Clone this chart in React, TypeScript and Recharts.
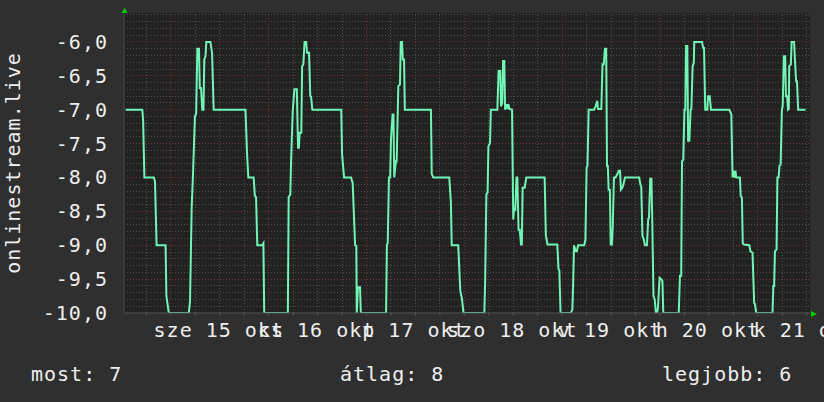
import React from "react";
import {
  LineChart,
  Line,
  XAxis,
  YAxis,
  CartesianGrid,
  ReferenceLine,
  Customized,
} from "recharts";

// hours since midnight, okt 15
const hours = [
  -11.1, -7.0, -6.8, -6.5, -4.2, -3.9, -3.5, -1.3, -1.1, -0.5, 4.4, 4.7, 5.1, 5.4, 5.9, 6.2, 6.5, 6.9, 7.1, 7.4,
  7.7, 8.0, 8.2, 8.5, 8.7, 9.7, 10.1, 10.5, 18.3, 18.7, 19.0, 20.3, 20.6, 20.9, 21.2, 22.4, 22.7, 22.9, 28.7, 28.9,
  29.3, 29.5, 29.9, 30.3, 30.9, 31.2, 31.4, 31.6, 32.0, 32.2, 32.5, 32.8, 33.2, 33.4, 33.9, 34.2, 34.4, 34.7, 41.8, 42.0,
  42.5, 44.2, 44.6, 45.2, 45.5, 45.6, 45.9, 46.4, 46.6, 52.8, 53.0, 53.2, 53.5, 53.8, 54.0, 54.4, 54.6, 54.8, 55.2, 55.4,
  55.8, 56.2, 56.4, 56.7, 56.9, 57.2, 57.4, 63.8, 64.0, 64.4, 68.3, 68.7, 68.9, 70.5, 71.0, 71.4, 71.8, 76.9, 77.1, 77.4,
  77.7, 77.9, 78.3, 78.5, 80.1, 80.4, 80.8, 81.0, 81.3, 81.5, 81.8, 82.0, 82.3, 82.6, 82.8, 83.1, 83.7, 84.0, 84.2, 84.5,
  84.8, 85.0, 85.3, 85.6, 85.9, 86.1, 86.3, 86.8, 87.2, 91.7, 92.0, 92.4, 94.8, 95.1, 95.3, 95.6, 98.1, 98.5, 98.7, 98.9,
  99.3, 99.6, 99.9, 101.4, 101.7, 102.0, 102.2, 102.5, 103.8, 104.2, 104.6, 104.8, 105.6, 105.9, 106.2, 106.5, 106.8, 107.0, 107.2, 107.4,
  107.7, 107.9, 108.2, 108.4, 108.7, 109.1, 109.7, 109.9, 110.2, 110.4, 110.7, 111.0, 111.4, 114.9, 115.2, 115.4, 115.7, 116.0, 116.3, 116.8,
  117.1, 117.3, 117.6, 117.9, 118.1, 118.4, 118.7, 119.0, 119.3, 119.5, 119.9, 120.3, 120.6, 120.8, 124.6, 124.9, 125.2, 125.4, 125.7, 126.0,
  126.2, 126.4, 126.7, 126.9, 127.2, 127.5, 127.7, 128.0, 128.3, 128.4, 130.3, 130.6, 130.8, 131.1, 131.6, 131.8, 132.2, 132.5, 137.0, 137.3,
  137.5, 137.8, 138.0, 138.3, 138.5, 138.7, 139.6, 139.8, 140.1, 140.3, 140.6, 141.9, 142.2, 142.7, 143.1, 143.3, 143.6, 147.6, 147.8, 148.0,
  148.2, 148.6, 148.8, 149.1, 149.3, 149.6, 149.9, 150.1, 150.4, 150.7, 150.9, 151.2, 151.4, 151.6, 151.7, 152.1, 152.3, 152.9, 153.1, 153.4,
  153.6, 153.9, 155.7,
];

const values = [
  -7.0, -7.0, -7.17, -8.0, -8.0, -8.06, -9.0, -9.0, -9.75, -10, -10, -9.83, -8.45, -8.0, -7.1, -7.06, -6.1, -6.1, -6.68, -6.68,
  -7.0, -7.0, -6.26, -6.21, -6.0, -6.0, -6.16, -7.0, -7.0, -7.66, -8.0, -8.0, -8.27, -8.29, -9.0, -9.0, -8.97, -10, -10, -8.29,
  -8.25, -7.74, -7.02, -6.7, -6.7, -7.56, -7.56, -7.34, -7.34, -6.36, -6.33, -6.0, -6.0, -6.16, -6.16, -6.8, -6.81, -7.0, -7.0, -7.66,
  -8.0, -8.0, -8.08, -9.0, -9.01, -10, -9.62, -9.62, -10, -10, -8.99, -8.97, -8.0, -8.0, -7.44, -7.07, -7.07, -8.0, -7.76, -7.76,
  -6.65, -6.63, -6.0, -6.0, -6.26, -6.26, -7.0, -7.0, -7.95, -8.0, -8.0, -8.37, -9.0, -9.0, -9.67, -9.79, -10, -10, -9.55, -8.25,
  -8.22, -7.54, -7.49, -7.0, -7.0, -6.43, -6.43, -6.95, -6.9, -6.28, -6.28, -7.0, -6.92, -6.99, -6.92, -6.99, -7.0, -8.62, -8.45, -8.47,
  -8.0, -8.0, -8.77, -8.77, -8.99, -8.99, -8.15, -8.15, -8.0, -8.0, -8.86, -8.99, -8.99, -9.35, -9.37, -10, -10, -9.95, -9.55, -9.0,
  -9.09, -9.09, -9.0, -9.0, -8.92, -7.86, -7.83, -7.0, -7.0, -6.95, -6.87, -6.99, -6.99, -6.33, -6.33, -6.1, -6.1, -7.83, -7.83, -8.18,
  -8.18, -8.99, -8.99, -8.74, -8.0, -8.0, -7.93, -7.9, -7.9, -8.18, -8.16, -8.11, -8.0, -8.0, -8.11, -8.13, -8.86, -8.91, -9.0, -9.0,
  -8.62, -8.59, -8.02, -8.02, -8.62, -9.75, -9.8, -10, -10, -9.92, -9.48, -9.5, -9.53, -10, -10, -9.45, -9.45, -7.76, -7.74, -7.0,
  -7.0, -6.06, -6.06, -7.46, -7.46, -7.0, -6.99, -6.36, -6.31, -6.0, -6.0, -6.09, -6.09, -7.0, -7.0, -6.8, -6.8, -7.0, -7.0, -7.04,
  -7.07, -8.0, -7.9, -8.0, -7.9, -8.0, -8.0, -8.27, -8.3, -8.97, -8.99, -9.0, -9.09, -9.11, -9.85, -9.87, -10, -10, -9.6, -9.6,
  -9.09, -9.06, -8.0, -8.0, -7.83, -7.81, -7.0, -6.95, -6.21, -6.21, -6.8, -6.8, -7.0, -6.99, -6.36, -6.33, -6.0, -6.0, -6.26, -6.58,
  -6.58, -7.0, -7.0,
];

const dayTicks = [12, 36, 60, 84, 108, 132, 156];
const dayLabels = ["sze 15 okt", "cs 16 okt", "p 17 okt", "szo 18 okt", "v 19 okt", "h 20 okt", "k 21 okt"];
const midnights = [0, 24, 48, 72, 96, 120, 144];
const sixHourTicks = [-6, 0, 6, 12, 18, 24, 30, 36, 42, 48, 54, 60, 66, 72, 78, 84, 90, 96, 102, 108, 114, 120, 126, 132, 138, 144, 150, 156];
const yTicks = [-10, -9.5, -9, -8.5, -8, -7.5, -7, -6.5, -6];

const data = hours.map((t, i) => ({ t, v: values[i] }));

// 0.1 steps for the minor grid
const minorY: number[] = [];
for (let i = -99; i <= -56; i++) {
  if (i % 5 !== 0) minorY.push(i / 10);
}

const FONT = '"DejaVu Sans Mono", monospace';
const TEXT = "#eeeeee";
const MINOR = "#4e4e4e";
const MAJOR = "#6e3232";

const XTick = (props: any) => {
  const { x, y, payload } = props;
  const idx = dayTicks.indexOf(payload.value);
  if (idx < 0) return null;
  return (
    <text x={x - 1} y={y + 19} textAnchor="middle" fill={TEXT} fontFamily={FONT} fontSize={20} letterSpacing={1}>
      {dayLabels[idx]}
    </text>
  );
};

const YTick = (props: any) => {
  const { x, y, payload } = props;
  return (
    <text x={x} y={y + 7} textAnchor="end" fill={TEXT} fontFamily={FONT} fontSize={20} letterSpacing={1}>
      {payload.value.toFixed(1).replace(".", ",")}
    </text>
  );
};

const Decor = () => (
  <g>
    <polygon points="121.5,13 127.5,13 124.5,7.5" fill="#00cc00" />
    <polygon points="811,311 811,317 817,314" fill="#00cc00" />
    <text
      x={20}
      y={163}
      transform="rotate(-90 20 163)"
      textAnchor="middle"
      fill={TEXT}
      fontFamily={FONT}
      fontSize={20}
      letterSpacing={1}
    >
      onlinestream.live
    </text>
    <text x={31} y={381} fill={TEXT} fontFamily={FONT} fontSize={20} letterSpacing={1}>
      most: 7
    </text>
    <text x={340} y={381} fill={TEXT} fontFamily={FONT} fontSize={20} letterSpacing={1}>
      átlag: 8
    </text>
    <text x={662} y={381} fill={TEXT} fontFamily={FONT} fontSize={20} letterSpacing={1}>
      legjobb: 6
    </text>
  </g>
);

export default function App() {
  return (
    <div style={{ position: "absolute", left: 0, top: 0, width: 824, height: 402, background: "#2f2f2f" }}>
      <LineChart width={824} height={402} data={data} margin={{ top: 13, right: 14, left: 0, bottom: 0 }}>
        <CartesianGrid fill="#222222" horizontal={false} vertical={false} />
        <XAxis
          dataKey="t"
          type="number"
          domain={[-11.5, 156.8]}
          ticks={sixHourTicks}
          interval={0}
          tick={<XTick />}
          tickSize={3}
          tickLine={{ stroke: "#555555" }}
          axisLine={{ stroke: "#555555" }}
          height={89}
          allowDataOverflow
        />
        <YAxis
          type="number"
          domain={[-10, -5.573]}
          ticks={yTicks}
          interval={0}
          tick={<YTick />}
          tickLine={false}
          tickSize={0}
          tickMargin={16}
          axisLine={{ stroke: "#3a3a3a", strokeWidth: 2 }}
          width={124}
          allowDataOverflow
        />
        {minorY.map((v) => (
          <ReferenceLine key={"my" + v} y={v} stroke={MINOR} strokeDasharray="1 2" shapeRendering="crispEdges" />
        ))}
        {sixHourTicks.filter((h) => midnights.indexOf(h) < 0).map((h) => (
          <ReferenceLine key={"mx" + h} x={h} stroke={MINOR} strokeDasharray="1 2" shapeRendering="crispEdges" />
        ))}
        {yTicks.filter((v) => v !== -10).map((v) => (
          <ReferenceLine key={"My" + v} y={v} stroke={MAJOR} strokeDasharray="1 2" shapeRendering="crispEdges" />
        ))}
        {midnights.map((h) => (
          <ReferenceLine key={"Mx" + h} x={h} stroke={MAJOR} strokeDasharray="1 2" shapeRendering="crispEdges" />
        ))}
        <Line
          type="linear"
          dataKey="v"
          stroke="#70f5b4"
          strokeWidth={2}
          dot={false}
          isAnimationActive={false}
        />
        <Customized component={Decor} />
      </LineChart>
    </div>
  );
}
